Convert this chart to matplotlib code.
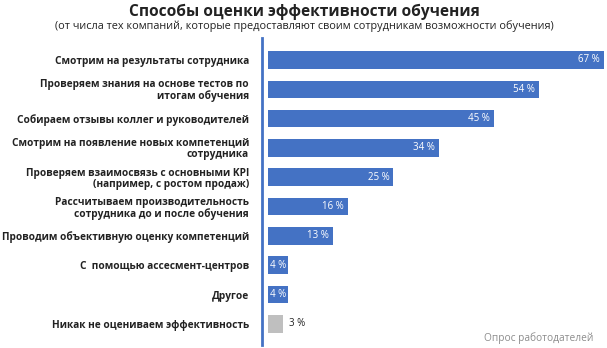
import matplotlib.pyplot as plt

plt.rcParams['font.family'] = ['Open Sans', 'DejaVu Sans']

labels = [
    'Смотрим на результаты сотрудника',
    'Проверяем знания на основе тестов по\nитогам обучения',
    'Собираем отзывы коллег и руководителей',
    'Смотрим на появление новых компетенций\nсотрудника',
    'Проверяем взаимосвязь с основными KPI\n(например, с ростом продаж)',
    'Рассчитываем производительность\nсотрудника до и после обучения',
    'Проводим объективную оценку компетенций',
    'С  помощью ассесмент-центров',
    'Другое',
    'Никак не оцениваем эффективность',
]
values = [67, 54, 45, 34, 25, 16, 13, 4, 4, 3]
colors = ['#4472C4'] * 9 + ['#BFBFBF']

fig = plt.figure(figsize=(6.07, 3.48), dpi=100)
ax = fig.add_axes([262 / 607, 1 - 345 / 348, 342 / 607, 307 / 348])

y = list(range(len(values)))
ax.barh(y, values, height=0.6, color=colors)
ax.set_xlim(-1.2, 67)
ax.set_ylim(len(values) - 0.28, -0.75)

for i, v in enumerate(values):
    txt = f'{v} %'
    if i == len(values) - 1:
        ax.text(v + 1.2, i, txt, ha='left', va='center', fontsize=7, color='#222222')
    elif v < 6:
        ax.text(v / 2, i, txt, ha='center', va='center', fontsize=7, color='white')
    else:
        ax.text(v - 0.8, i, txt, ha='right', va='center', fontsize=7, color='white')

ax.set_yticks(y)
ax.set_yticklabels(labels, fontsize=7.3, fontweight='bold', color='#222222', linespacing=1.0)
ax.tick_params(axis='y', length=0, pad=9.4)
ax.set_xticks([])
for s in ['top', 'right', 'bottom']:
    ax.spines[s].set_visible(False)
ax.spines['left'].set_color('#4472C4')
ax.spines['left'].set_linewidth(2)

fig.text(304 / 607, 1 - 12 / 348, 'Способы оценки эффективности обучения', ha='center', va='center',
         fontsize=11.2, fontweight='bold', color='#222222')
fig.text(304 / 607, 1 - 26 / 348, '(от числа тех компаний, которые предоставляют своим сотрудникам возможности обучения)',
         ha='center', va='center', fontsize=7.8, color='#222222')
fig.text(593 / 607, 1 - 338 / 348, 'Опрос работодателей', ha='right', va='center',
         fontsize=7.3, color='#8c8c8c')

fig.savefig('out.png', dpi=100)
